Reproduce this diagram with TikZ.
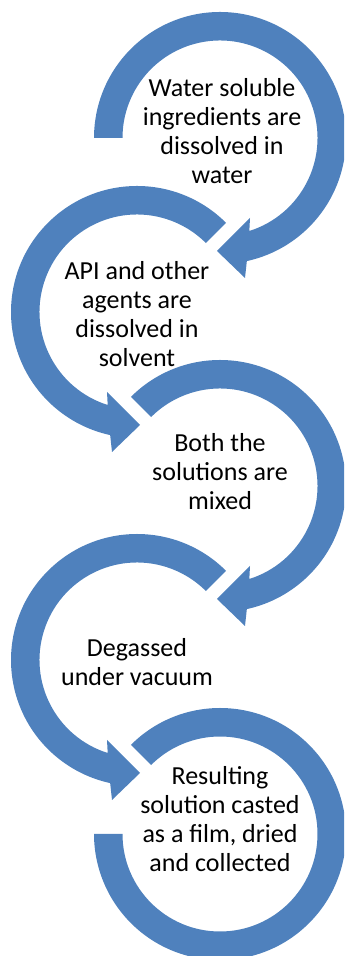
\documentclass[tikz,border=0pt]{standalone}
\usepackage{fontspec}
\setmainfont{Carlito}
\definecolor{sablue}{HTML}{4F81BD}
\tikzset{
  arrowfill/.style={fill=sablue, draw=none},
  steptext/.style={align=center, inner sep=0pt, font=\fontsize{19.5}{21.75}\selectfont, text=black}
}
\newcommand{\circarrowpath}[1]{%
  (#1:126) arc[start angle=#1, end angle=-77.7, radius=126]
  -- (25,-140) -- (-3,-113) -- (30,-80)
  -- (-72.5:97.5) arc[start angle=-72.5, end angle=#1, radius=97.5] -- cycle}
\begin{document}
\begin{tikzpicture}[x=0.75pt, y=0.75pt]
\useasboundingbox (0,0) rectangle (344,956);
\clip (0,0) rectangle (344,956);
\coordinate (c1) at (220,818);
\coordinate (c2) at (137,644);
\coordinate (c3) at (220,470);
\coordinate (c4) at (137,296);
\coordinate (c5) at (220,122);
% arrows
\begin{scope}[shift={(c1)}]
  \fill[arrowfill] \circarrowpath{180};
\end{scope}
\begin{scope}[shift={(c2)}, xscale=-1]
  \fill[arrowfill] \circarrowpath{135};
\end{scope}
\begin{scope}[shift={(c3)}]
  \fill[arrowfill] \circarrowpath{135};
\end{scope}
\begin{scope}[shift={(c4)}, xscale=-1]
  \fill[arrowfill] \circarrowpath{135};
\end{scope}
\begin{scope}[shift={(c5)}]
  \fill[arrowfill] (135:126) arc[start angle=135, end angle=-180, radius=126]
    -- (180:97.5) arc[start angle=-180, end angle=135, radius=97.5] -- cycle;
\end{scope}
% texts
\node[steptext] (t1) at (222,825) {Water soluble\\ingredients are\\dissolved in\\water};
\node[steptext] (t2) at (137,642) {API and other\\agents are\\dissolved in\\solvent};
\node[steptext] (t3) at (220,484) {Both the\\solutions are\\mixed};
\node[steptext] (t4) at (137,294) {Degassed\\under vacuum};
\node[steptext] (t5) at (220,137) {Resulting\\solution casted\\as a film, dried\\and collected};
\end{tikzpicture}
\end{document}
